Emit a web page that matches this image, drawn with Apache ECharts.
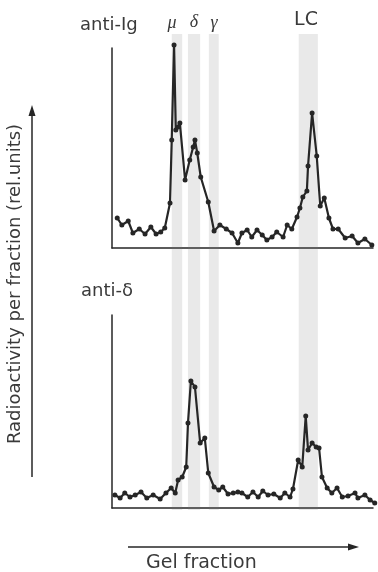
<!DOCTYPE html>
<html>
<head>
<meta charset="utf-8">
<script src="https://cdn.jsdelivr.net/npm/echarts@6/dist/echarts.min.js"></script>
<style>
  html, body { margin: 0; padding: 0; background: #fff; }
  #chart1 { width: 378px; height: 572px; }
</style>
</head>
<body>
<div id="chart1"></div>
<script>
// gel fraction (x) vs radioactivity (rel. units)
var antiIg = [
    [0.9, 30], [1.7, 23], [2.8, 27], [3.6, 15], [4.7, 19], [5.7, 14], [6.7, 21], [7.6, 14],
    [8.4, 16], [9.1, 20], [10.0, 45], [10.3, 108], [10.7, 203], [11.0, 118], [11.4, 121],
    [11.7, 125], [12.6, 68], [13.4, 88], [14.0, 101], [14.3, 108], [14.7, 95], [15.3, 71],
    [16.6, 46], [17.6, 17], [18.6, 23], [19.7, 19], [20.7, 15], [21.7, 5], [22.4, 15],
    [23.3, 18], [24.1, 11], [25.0, 18], [25.9, 13], [26.7, 8], [27.6, 11], [28.4, 16],
    [29.5, 11], [30.2, 23], [31.0, 19], [31.9, 31], [32.4, 40], [32.9, 51], [33.6, 57],
    [33.8, 82], [34.5, 135], [35.3, 92], [35.9, 42], [36.6, 50], [37.4, 30], [38.1, 19],
    [39.0, 19], [40.2, 10], [41.4, 12], [42.4, 5], [43.6, 9], [44.8, 3]
];
var antiDelta = [
    [0.5, 13], [1.4, 10], [2.2, 15], [3.1, 11], [4.0, 13], [5.0, 16], [6.0, 10], [7.1, 13],
    [8.3, 9], [9.3, 15], [10.2, 20], [10.9, 15], [11.4, 28], [12.1, 31], [12.8, 41],
    [13.1, 85], [13.6, 127], [14.3, 121], [15.2, 65], [16.0, 70], [16.6, 35], [17.6, 21],
    [18.4, 18], [19.1, 21], [20.0, 14], [20.9, 15], [21.7, 16], [22.4, 15], [23.4, 11],
    [24.3, 16], [25.2, 11], [26.0, 17], [26.9, 13], [27.9, 14], [29.0, 10], [29.8, 15],
    [30.7, 11], [31.2, 19], [32.1, 48], [32.8, 41], [33.4, 92], [33.8, 58], [34.5, 65],
    [35.2, 61], [35.7, 60], [36.2, 31], [37.1, 20], [37.9, 15], [38.8, 20], [39.7, 11],
    [40.7, 12], [41.9, 15], [42.4, 10], [43.6, 13], [44.5, 8], [45.3, 5]
];
// shaded marker zones (fraction ranges)
var bandNames = ['μ', 'δ', 'γ', 'LC'];
var bandRanges = [[10.3, 12.1], [13.1, 15.2], [16.7, 18.4], [32.2, 35.5]];

var myChart = echarts.init(document.getElementById('chart1'));

var ink = '#262626';
var textCol = '#3a3a3a';
var sans = '"DejaVu Sans"';

function xAx(idx, show) {
    return {
        gridIndex: idx, type: 'value', min: 0, max: 45,
        show: show,
        axisLine: { show: show, lineStyle: { color: ink, width: 1.5 } },
        axisTick: { show: false }, axisLabel: { show: false }, splitLine: { show: false }
    };
}
function yAx(idx, max, show) {
    return {
        gridIndex: idx, type: 'value', min: 0, max: max,
        show: show,
        axisLine: { show: show, lineStyle: { color: ink, width: 1.5 } },
        axisTick: { show: false }, axisLabel: { show: false }, splitLine: { show: false }
    };
}
function curve(idx, data) {
    return {
        type: 'line', xAxisIndex: idx, yAxisIndex: idx, data: data,
        clip: false, z: 3,
        symbol: 'circle', symbolSize: 5,
        lineStyle: { color: ink, width: 2.2 },
        itemStyle: { color: ink }
    };
}

option = {
    animation: false,
    backgroundColor: '#fff',
    grid: [
        { left: 112, top: 48, width: 261, height: 200 },
        { left: 112, top: 315, width: 261, height: 193 },
        { left: 112, top: 34, width: 261, height: 476 }
    ],
    xAxis: [xAx(0, true), xAx(1, true), xAx(2, false)],
    yAxis: [yAx(0, 200, true), yAx(1, 193, true), yAx(2, 1, false)],
    series: [
        {
            type: 'line', xAxisIndex: 2, yAxisIndex: 2, z: 1,
            data: [[0, -1]], symbol: 'none', lineStyle: { opacity: 0 },
            markArea: {
                silent: true,
                itemStyle: { color: 'rgba(120,120,120,0.16)' },
                data: bandRanges.map(function (r) { return [{ xAxis: r[0] }, { xAxis: r[1] }]; })
            }
        },
        curve(0, antiIg),
        curve(1, antiDelta)
    ],
    graphic: [
        { type: 'text', x: 80, y: 25, style: { text: 'anti-Ig', fill: textCol, font: '18px ' + sans, verticalAlign: 'middle' } },
        { type: 'text', x: 81, y: 291, style: { text: 'anti-δ', fill: textCol, font: '18px ' + sans, verticalAlign: 'middle' } },
        { type: 'text', x: 172, y: 23, style: { text: bandNames[0], fill: textCol, font: 'italic 18px "Liberation Serif"', align: 'center', verticalAlign: 'middle' } },
        { type: 'text', x: 194, y: 22, style: { text: bandNames[1], fill: textCol, font: 'italic 18px "Liberation Serif"', align: 'center', verticalAlign: 'middle' } },
        { type: 'text', x: 214, y: 23, style: { text: bandNames[2], fill: textCol, font: 'italic 18px "Liberation Serif"', align: 'center', verticalAlign: 'middle' } },
        { type: 'text', x: 306, y: 20, style: { text: bandNames[3], fill: textCol, font: '19px ' + sans, align: 'center', verticalAlign: 'middle' } },
        // y-axis caption with arrow
        { type: 'text', x: 15, y: 284, rotation: Math.PI / 2,
          style: { text: 'Radioactivity per fraction (rel.units)', fill: textCol, font: '18px ' + sans, align: 'center', verticalAlign: 'middle' } },
        { type: 'line', shape: { x1: 32, y1: 114, x2: 32, y2: 477 }, style: { stroke: ink, lineWidth: 1.5 } },
        { type: 'polygon', shape: { points: [[32, 105], [28.5, 116], [35.5, 116]] }, style: { fill: ink } },
        // x-axis caption with arrow
        { type: 'line', shape: { x1: 128, y1: 547, x2: 350, y2: 547 }, style: { stroke: ink, lineWidth: 1.5 } },
        { type: 'polygon', shape: { points: [[359, 547], [348, 543.5], [348, 550.5]] }, style: { fill: ink } },
        { type: 'text', x: 146, y: 563, style: { text: 'Gel fraction', fill: textCol, font: '19px ' + sans, verticalAlign: 'middle' } }
    ]
};
myChart.setOption(option);
window.onresize = myChart.resize;
</script>
</body>
</html>
